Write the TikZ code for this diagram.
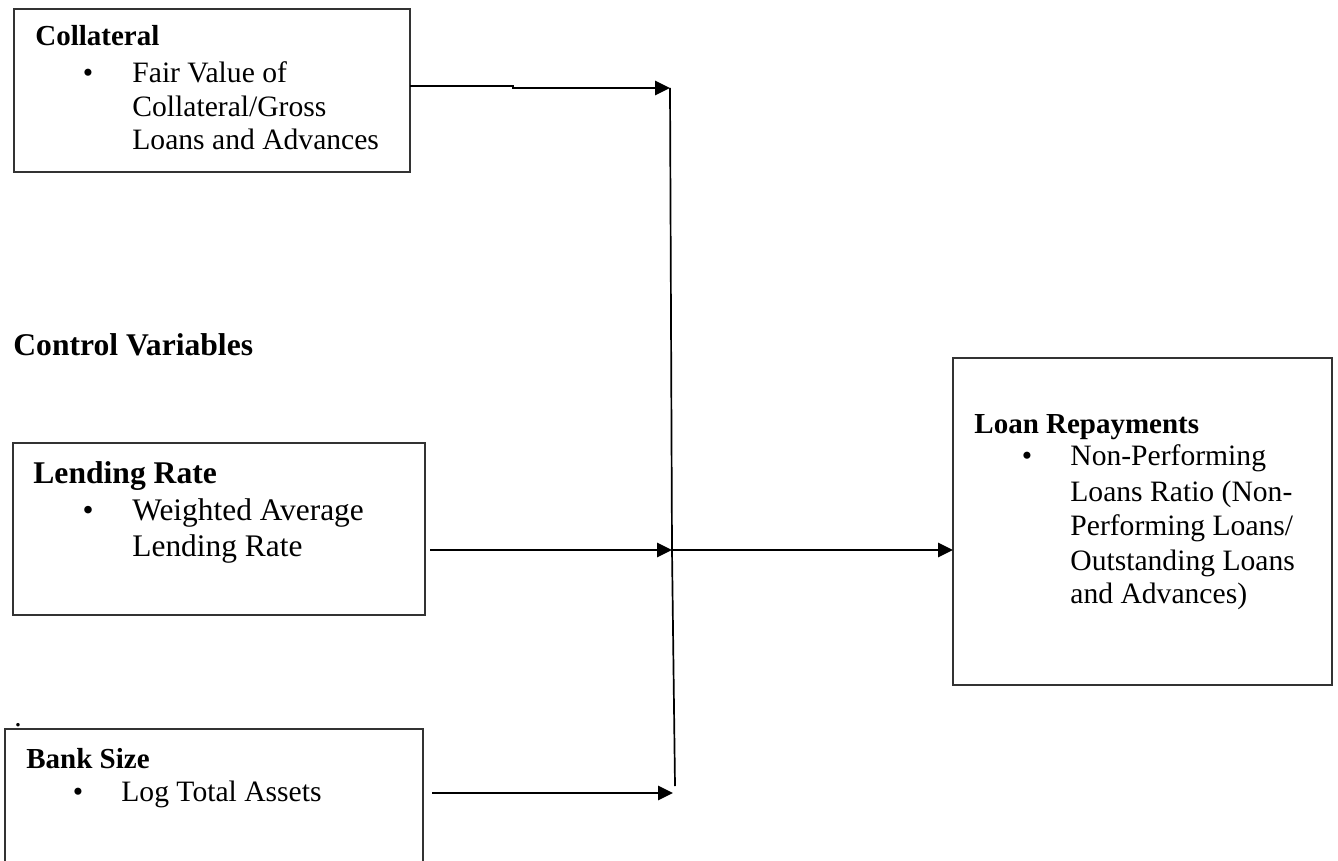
\documentclass[tikz,border=0pt]{standalone}
\usepackage{fontspec}
\setmainfont{Liberation Serif}
\usetikzlibrary{arrows.meta}
\begin{document}
\begin{tikzpicture}[x=0.5pt,y=-0.5pt,
  box/.style={draw=black!80, line width=0.85pt, anchor=north west, inner sep=0pt, outer sep=0pt},
  ttl/.style={anchor=base west, inner sep=0pt, font=\fontsize{14.5}{17}\selectfont\bfseries},
  ttlL/.style={anchor=base west, inner sep=0pt, font=\fontsize{15.8}{18}\selectfont\bfseries},
  txt/.style={anchor=base west, inner sep=0pt, font=\fontsize{14.8}{17}\selectfont},
  txtL/.style={anchor=base west, inner sep=0pt, font=\fontsize{15.7}{18}\selectfont},
  bul/.style={anchor=base, inner sep=0pt, font=\fontsize{14.8}{17}\selectfont},
  bulL/.style={anchor=base, inner sep=0pt, font=\fontsize{15.7}{18}\selectfont},
  conn/.style={line width=1.35pt, -{Triangle[length=7.5pt,width=7pt]}},
  vline/.style={line width=0.85pt}]
\useasboundingbox (0,0) rectangle (1338,861);
\clip (0,0) rectangle (1338,861);

% boxes
\node[box, minimum width=198pt, minimum height=81.5pt] (coll) at (14,9) {};
\node[box, minimum width=206pt, minimum height=86pt] (lend) at (13,443) {};
\node[box, minimum width=209pt, minimum height=80pt] (bank) at (5,729) {};
\node[box, minimum width=189.5pt, minimum height=163.5pt] (loan) at (953,358) {};

% collateral text
\node[ttl] (collT) at (35,46) {Collateral};
\node[bul] (collB) at (88,83) {•};
\node[txt] (coll1) at (132,83) {Fair Value of};
\node[txt] (coll2) at (132,117) {Collateral/Gross};
\node[txt] (coll3) at (132,150) {Loans and Advances};

% control variables
\node[ttlL] (ctrl) at (13,355) {Control Variables};

% lending rate
\node[ttlL] (lendT) at (33,483) {Lending Rate};
\node[bulL] (lendB) at (88,520) {•};
\node[txtL] (lend1) at (132,520) {Weighted Average};
\node[txtL] (lend2) at (132,556) {Lending Rate};

% stray dot
\node[txt] (dot) at (14,726) {.};

% bank size
\node[ttl] (bankT) at (26,768) {Bank Size};
\node[bul] (bankB) at (78,801) {•};
\node[txt] (bank1) at (121,801) {Log Total Assets};

% loan repayments
\node[ttl] (loanT) at (974,433) {Loan Repayments};
\node[bul] (loanB) at (1027,465) {•};
\node[txt] (loan1) at (1070,465) {Non-Performing};
\node[txt] (loan2) at (1070,501) {Loans Ratio (Non-};
\node[txt] (loan3) at (1070,535) {Performing Loans/};
\node[txt] (loan4) at (1070,570) {Outstanding Loans};
\node[txt] (loan5) at (1070,603) {and Advances)};

% junction line
\coordinate (vt) at (670,88);
\coordinate (vm) at (672,550);
\coordinate (vb) at (675,786);
\coordinate (vbank) at (673,793);
\draw[vline] (vt) -- (vm) -- (vb);

% connectors
\draw[conn] ([yshift=2.25pt]coll.east) -- ++(103,0) -- ++(0,2) -- (vt);
\draw[conn] ([xshift=2.5pt]lend.east |- vm) -- (vm);
\draw[conn] (vm) -- (loan.west |- vm);
\draw[conn] ([xshift=4.5pt]bank.east |- vbank) -- (vbank);
\end{tikzpicture}
\end{document}
